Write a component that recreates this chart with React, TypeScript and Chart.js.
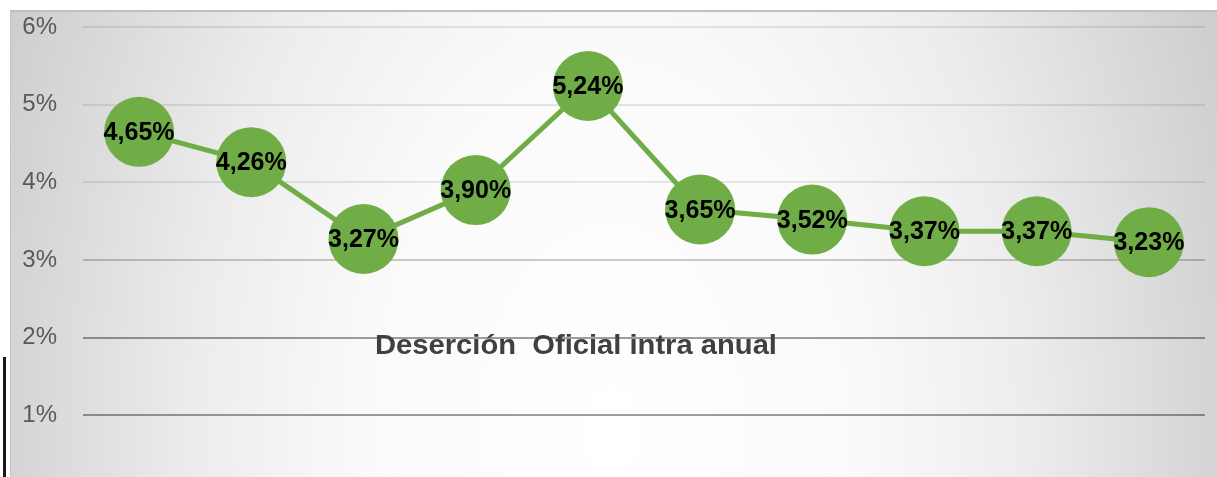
import React, { useEffect, useRef } from "react";
import { Chart, registerables } from "chart.js";

Chart.register(...registerables);

const categories = ["1", "2", "3", "4", "5", "6", "7", "8", "9", "10"];
const desercion = [4.65, 4.26, 3.27, 3.9, 5.24, 3.65, 3.52, 3.37, 3.37, 3.23];
const yTickValues = [1, 2, 3, 4, 5, 6];
const chartTitle = "Deserción  Oficial intra anual";

const GREEN = "#70ad47";

const fmt = (v: number) => v.toFixed(2).replace(".", ",") + "%";

const labelPlugin = {
  id: "pointLabels",
  afterDatasetsDraw(chart: any) {
    const ctx = chart.ctx;
    const meta = chart.getDatasetMeta(0);
    ctx.save();
    ctx.fillStyle = "#000000";
    ctx.font = 'bold 26px "Liberation Sans", Arial, sans-serif';
    ctx.textAlign = "center";
    ctx.textBaseline = "middle";
    const sx = 71 / ctx.measureText("4,65%").width;
    meta.data.forEach((pt: any, i: number) => {
      ctx.save();
      ctx.translate(pt.x, pt.y + 1);
      ctx.scale(sx, 1);
      ctx.fillText(fmt(desercion[i]), 0, 0);
      ctx.restore();
    });
    ctx.restore();
  },
};

const titlePlugin = {
  id: "innerTitle",
  afterDatasetsDraw(chart: any) {
    const ctx = chart.ctx;
    ctx.save();
    ctx.fillStyle = "#404040";
    ctx.font = 'bold 27px "Liberation Sans", Arial, sans-serif';
    ctx.textAlign = "center";
    ctx.textBaseline = "alphabetic";
    ctx.translate(576, 354);
    ctx.scale(1.08, 1);
    ctx.fillText(chartTitle, 0, 0);
    ctx.restore();
  },
};

export default function App() {
  const canvasRef = useRef<HTMLCanvasElement | null>(null);

  useEffect(() => {
    if (!canvasRef.current) return;
    const chart = new Chart(canvasRef.current, {
      type: "line",
      data: {
        labels: categories,
        datasets: [
          {
            data: desercion,
            borderColor: GREEN,
            borderWidth: 5,
            backgroundColor: GREEN,
            pointRadius: 35,
            pointHoverRadius: 35,
            pointBackgroundColor: GREEN,
            pointBorderColor: GREEN,
            pointBorderWidth: 0,
            tension: 0,
            fill: false,
            clip: false as any,
          },
        ],
      },
      options: {
        animation: false,
        responsive: false,
        devicePixelRatio: 1,
        events: [],
        layout: { autoPadding: false, padding: { top: 27, bottom: 27, left: 0, right: 12 } },
        plugins: {
          legend: { display: false },
          tooltip: { enabled: false },
          title: { display: false },
        },
        scales: {
          x: {
            display: false,
            offset: true,
            grid: { display: false },
          },
          y: {
            min: 0,
            max: 6,
            border: { display: false },
            afterBuildTicks: (scale: any) => {
              scale.ticks = yTickValues.map((v) => ({ value: v }));
            },
            afterFit: (scale: any) => {
              scale.width = 83;
            },
            grid: {
              drawTicks: true,
              tickLength: 26,
              tickColor: "rgba(0,0,0,0)",
              lineWidth: 2,
              color: (c: any) => {
                const v = c.tick ? c.tick.value : 0;
                if (v >= 4) return "rgba(0,0,0,0.09)";
                if (v === 3) return "rgba(0,0,0,0.2)";
                return "rgba(0,0,0,0.38)";
              },
            },
            ticks: {
              padding: 0,
              color: "#595959",
              font: { family: '"Liberation Sans", Arial, sans-serif', size: 24 },
              callback: (v: any) => v + "%",
            },
          },
        },
      },
      plugins: [labelPlugin, titlePlugin],
    });
    return () => chart.destroy();
  }, []);

  return (
    <div
      style={{
        position: "fixed",
        left: 0,
        top: 0,
        width: 1217,
        height: 477,
        overflow: "hidden",
        background: "#ffffff",
      }}
    >
      <div
        style={{
          position: "absolute",
          left: 10,
          top: 10,
          right: 0,
          bottom: 0,
          borderTop: "2px solid #c0c0c0",
          borderLeft: "1px solid #c4c4c4",
          background:
            "radial-gradient(ellipse 700px 1100px at 600px 420px, #ffffff 0%, #fafafa 35%, #ececec 60%, #c8c8c8 100%)",
        }}
      />
      <div
        style={{
          position: "absolute",
          left: 3,
          top: 357,
          width: 3,
          height: 130,
          background: "#1a1a1a",
        }}
      />
      <canvas
        ref={canvasRef}
        width={1217}
        height={520}
        style={{ position: "absolute", left: 0, top: 0, width: 1217, height: 520 }}
      />
    </div>
  );
}
